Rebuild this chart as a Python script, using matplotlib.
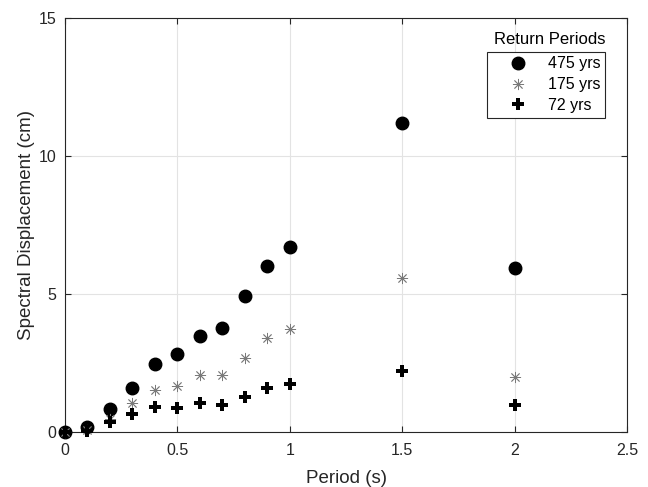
import matplotlib
matplotlib.use("Agg")
import matplotlib.pyplot as plt

plt.rcParams['font.family'] = ['Liberation Sans', 'DejaVu Sans']

periods = [0, 0.1, 0.2, 0.3, 0.4, 0.5, 0.6, 0.7, 0.8, 0.9, 1.0, 1.5, 2.0]
sd_475 = [0.0, 0.18, 0.83, 1.59, 2.46, 2.85, 3.49, 3.77, 4.93, 6.04, 6.71, 11.2, 5.96]
sd_175 = [0.0, 0.1, 0.50, 1.06, 1.53, 1.69, 2.06, 2.08, 2.70, 3.43, 3.73, 5.58, 1.99]
sd_72 = [0.0, 0.06, 0.36, 0.65, 0.91, 0.87, 1.07, 0.98, 1.28, 1.59, 1.74, 2.23, 0.99]
series_labels = ['475 yrs', '175 yrs', '72 yrs']
xticks = [0, 0.5, 1, 1.5, 2, 2.5]
xticklabels = ['0', '0.5', '1', '1.5', '2', '2.5']
yticks = [0, 5, 10, 15]

dark = '#262626'
fig = plt.figure(figsize=(6.48, 4.87), dpi=100)
ax = fig.add_axes([0.1003, 0.1123, 0.8677, 0.8501])

ax.plot(periods, sd_475, linestyle='none', marker='o', markersize=9, color='black',
        label=series_labels[0], zorder=3, clip_on=False)
ax.plot(periods, sd_175, linestyle='none', marker=(8, 2, 0), markersize=8, color='#7a7a7a',
        markeredgewidth=0.6, label=series_labels[1], zorder=3, clip_on=False)
ax.plot(periods, sd_72, linestyle='none', marker='P', markersize=8, color='black',
        markeredgewidth=0, label=series_labels[2], zorder=3, clip_on=False)

ax.set_xlim(0, 2.5)
ax.set_ylim(0, 15)
ax.set_xticks(xticks)
ax.set_xticklabels(xticklabels)
ax.set_yticks(yticks)
ax.grid(True, color='#e3e3e3', linewidth=0.8)
ax.set_axisbelow(True)
ax.tick_params(direction='in', length=4, width=0.8, colors=dark, labelsize=11.5,
               top=True, right=True, labeltop=False, labelright=False)
ax.tick_params(axis='x', pad=8)
ax.tick_params(axis='y', pad=6)
for s in ax.spines.values():
    s.set_color(dark)
    s.set_linewidth(0.8)
ax.set_xlabel('Period (s)', fontsize=13.5, color=dark, labelpad=8)
ax.set_ylabel('Spectral Displacement (cm)', fontsize=13.5, color=dark, labelpad=3)

leg = ax.legend(loc='upper left', bbox_to_anchor=(487/648, (487-51.7)/487), bbox_transform=fig.transFigure,
                fontsize=11.5, frameon=True, fancybox=False, edgecolor=dark, framealpha=1,
                handlelength=3.3, handletextpad=0.2, borderpad=0.3, labelspacing=0.36, borderaxespad=0)
leg.get_frame().set_linewidth(0.8)
fig.text(550/648, (487-39)/487, 'Return Periods', ha='center', va='center', fontsize=12, color='black')

fig.savefig('out.png', dpi=100)
